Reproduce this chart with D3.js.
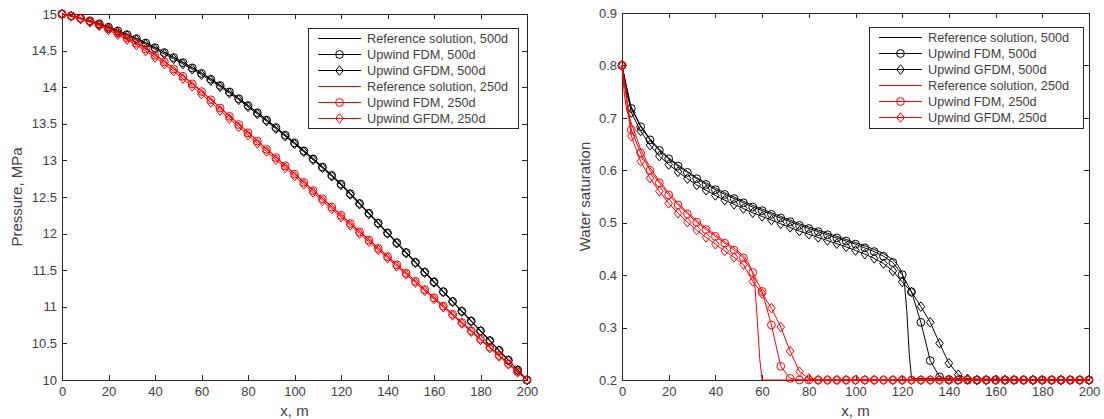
<!DOCTYPE html>
<html><head><meta charset="utf-8">
<script src="https://cdn.jsdelivr.net/npm/d3@7"></script>
<style>
body{margin:0;background:#fff;}
svg{display:block;font-family:Arial,"Liberation Sans",Helvetica,sans-serif;}
</style>
</head><body>
<svg id="c" width="1104" height="419"></svg>
<script>
// ---------- data ----------
const xTicks=[0,20,40,60,80,100,120,140,160,180,200];
const pTicks=[10,10.5,11,11.5,12,12.5,13,13.5,14,14.5,15];
const sTicks=[0.2,0.3,0.4,0.5,0.6,0.7,0.8,0.9];
const legendLabels=["Reference solution, 500d","Upwind FDM, 500d","Upwind GFDM, 500d","Reference solution, 250d","Upwind FDM, 250d","Upwind GFDM, 250d"];

const xNodes=[0,4,8,12,16,20,24,28,32,36,40,44,48,52,56,60,64,68,72,76,80,84,88,92,96,100,104,108,112,116,120,124,128,132,136,140,144,148,152,156,160,164,168,172,176,180,184,188,192,196,200];

// pressure, MPa
const pRef500=[15.000,14.975,14.945,14.910,14.870,14.825,14.775,14.725,14.670,14.610,14.545,14.480,14.412,14.342,14.270,14.195,14.115,14.030,13.942,13.850,13.755,13.657,13.557,13.455,13.351,13.245,13.137,13.027,12.915,12.801,12.685,12.551,12.417,12.283,12.149,12.015,11.881,11.747,11.613,11.479,11.345,11.211,11.077,10.943,10.809,10.675,10.541,10.407,10.273,10.139,10.000];
const pFdm500=[15.000,14.973,14.942,14.906,14.866,14.820,14.770,14.719,14.664,14.604,14.540,14.474,14.406,14.336,14.264,14.189,14.109,14.024,13.936,13.844,13.749,13.651,13.551,13.449,13.345,13.239,13.131,13.021,12.909,12.795,12.676,12.545,12.412,12.278,12.144,12.010,11.876,11.742,11.608,11.475,11.341,11.207,11.073,10.940,10.806,10.672,10.538,10.405,10.271,10.137,10.000];
const pGfdm500=[15.000,14.970,14.935,14.896,14.853,14.806,14.755,14.703,14.647,14.586,14.521,14.455,14.387,14.317,14.245,14.170,14.090,14.006,13.918,13.827,13.732,13.634,13.535,13.433,13.330,13.224,13.117,13.008,12.897,12.783,12.664,12.533,12.401,12.268,12.135,12.001,11.868,11.734,11.601,11.467,11.334,11.201,11.067,10.934,10.800,10.667,10.534,10.400,10.267,10.133,10.000];
const pRef250=[15.000,14.975,14.945,14.905,14.860,14.805,14.745,14.680,14.610,14.530,14.445,14.355,14.260,14.160,14.055,13.950,13.837,13.724,13.611,13.499,13.386,13.273,13.160,13.047,12.934,12.821,12.709,12.596,12.483,12.370,12.257,12.144,12.031,11.919,11.806,11.693,11.580,11.467,11.354,11.241,11.129,11.016,10.903,10.790,10.677,10.564,10.451,10.339,10.226,10.113,10.000];
const pFdm250=[15.000,14.973,14.941,14.900,14.854,14.798,14.738,14.672,14.601,14.521,14.436,14.346,14.250,14.150,14.045,13.940,13.828,13.715,13.602,13.490,13.377,13.264,13.151,13.039,12.926,12.813,12.701,12.588,12.475,12.363,12.250,12.137,12.024,11.912,11.799,11.687,11.574,11.461,11.349,11.236,11.124,11.011,10.898,10.786,10.673,10.561,10.448,10.336,10.224,10.112,10.000];
const pGfdm250=[15.000,14.968,14.932,14.888,14.838,14.780,14.717,14.649,14.576,14.494,14.407,14.315,14.218,14.117,14.011,13.905,13.793,13.681,13.569,13.457,13.345,13.233,13.121,13.009,12.897,12.785,12.673,12.561,12.449,12.337,12.225,12.113,12.001,11.889,11.777,11.665,11.553,11.441,11.330,11.218,11.106,10.994,10.882,10.771,10.659,10.547,10.436,10.324,10.213,10.106,10.000];

// water saturation
const sRefX500=[0,1,2,4,8,12,16,20,24,28,32,36,40,44,48,52,56,60,64,68,72,76,80,84,88,92,96,100,104,108,112,116,118,120,121,122,123,124,200];
const sRef500=[0.800,0.765,0.745,0.720,0.685,0.660,0.640,0.624,0.610,0.598,0.586,0.576,0.566,0.557,0.549,0.541,0.533,0.526,0.519,0.512,0.505,0.498,0.492,0.486,0.480,0.474,0.468,0.462,0.456,0.449,0.441,0.430,0.420,0.405,0.382,0.330,0.250,0.203,0.200];
const sFdm500=[0.800,0.718,0.683,0.658,0.638,0.622,0.608,0.596,0.584,0.573,0.563,0.554,0.546,0.538,0.530,0.523,0.516,0.509,0.502,0.495,0.489,0.483,0.477,0.471,0.465,0.459,0.452,0.445,0.436,0.424,0.401,0.368,0.310,0.237,0.206,0.201,0.200,0.200,0.200,0.200,0.200,0.200,0.200,0.200,0.200,0.200,0.200,0.200,0.200,0.200,0.200];
const sGfdm500=[0.800,0.710,0.675,0.648,0.627,0.611,0.597,0.584,0.572,0.562,0.552,0.543,0.535,0.527,0.519,0.512,0.505,0.498,0.491,0.484,0.478,0.472,0.466,0.460,0.454,0.447,0.440,0.432,0.422,0.408,0.387,0.368,0.340,0.310,0.270,0.232,0.210,0.202,0.200,0.200,0.200,0.200,0.200,0.200,0.200,0.200,0.200,0.200,0.200,0.200,0.200];
const sRefX250=[0,1,2,4,8,12,16,20,24,28,32,36,40,44,48,52,54,56,57,58,59,60,200];
const sRef250=[0.800,0.745,0.715,0.690,0.640,0.605,0.580,0.557,0.537,0.520,0.504,0.490,0.477,0.464,0.452,0.437,0.425,0.405,0.375,0.310,0.240,0.200,0.200];
const sFdm250=[0.800,0.677,0.633,0.600,0.576,0.553,0.534,0.517,0.501,0.487,0.474,0.461,0.448,0.433,0.405,0.369,0.305,0.226,0.203,0.200,0.200,0.200,0.200,0.200,0.200,0.200,0.200,0.200,0.200,0.200,0.200,0.200,0.200,0.200,0.200,0.200,0.200,0.200,0.200,0.200,0.200,0.200,0.200,0.200,0.200,0.200,0.200,0.200,0.200,0.200,0.200];
const sGfdm250=[0.800,0.665,0.617,0.585,0.560,0.537,0.518,0.501,0.486,0.472,0.459,0.446,0.434,0.420,0.388,0.365,0.337,0.301,0.255,0.216,0.203,0.200,0.200,0.200,0.200,0.200,0.200,0.200,0.200,0.200,0.200,0.200,0.200,0.200,0.200,0.200,0.200,0.200,0.200,0.200,0.200,0.200,0.200,0.200,0.200,0.200,0.200,0.200,0.200,0.200,0.200];

// ---------- drawing ----------
const svg=d3.select('#c');
const AX='#262626', TXT='#404040', RED='#ff0000', BLK='#000000';
const CR=3.9;

function markerPath(type){
  if(type==='diamond') return 'M0,-4.8L3.8,0L0,4.8L-3.8,0Z';
  return null;
}

function drawPanel(p){
  const g=svg.append('g');
  const x=d3.scaleLinear().domain([0,200]).range([p.left,p.right]);
  const y=d3.scaleLinear().domain(p.yDomain).range([p.bottom,p.top]);

  const ax=g.append('g');
  ax.append('g').attr('transform',`translate(0,${p.bottom})`)
    .call(d3.axisBottom(x).tickValues(xTicks).tickSize(-5).tickSizeOuter(0).tickPadding(7).tickFormat(d3.format('d')));
  ax.append('g').attr('transform',`translate(0,${p.top})`)
    .call(d3.axisTop(x).tickValues(xTicks).tickSize(-5).tickSizeOuter(0).tickFormat(''));
  ax.append('g').attr('transform',`translate(${p.left},0)`)
    .call(d3.axisLeft(y).tickValues(p.yTicks).tickSize(-5).tickSizeOuter(0).tickPadding(5).tickFormat(p.fmt));
  ax.append('g').attr('transform',`translate(${p.right},0)`)
    .call(d3.axisRight(y).tickValues(p.yTicks).tickSize(-5).tickSizeOuter(0).tickFormat(''));
  ax.selectAll('path.domain').attr('stroke',AX).attr('stroke-width',1).attr('shape-rendering','crispEdges');
  ax.selectAll('.tick line').attr('stroke',AX).attr('stroke-width',1).attr('shape-rendering','crispEdges');
  ax.selectAll('.tick text').attr('fill',TXT).style('font-size','13px').style('font-family','Arial,"Liberation Sans",sans-serif');

  // axis labels
  g.append('text').attr('x',(p.left+p.right)/2).attr('y',416).attr('text-anchor','middle')
    .attr('fill',TXT).style('font-size','15px').text('x, m');
  g.append('text').attr('transform',`translate(${p.ylabX},${(p.top+p.bottom)/2}) rotate(-90)`)
    .attr('text-anchor','middle').attr('fill',TXT).style('font-size','15px').text(p.ylabel);

  // series
  const line=d3.line();
  p.series.forEach(s=>{
    const pts=s.x.map((xx,i)=>[x(xx),y(s.y[i])]);
    g.append('path').attr('d',line(pts)).attr('fill','none').attr('stroke',s.color).attr('stroke-width',1);
    if(s.marker==='circle'){
      g.append('g').selectAll('circle').data(pts).enter().append('circle')
        .attr('cx',d=>d[0]).attr('cy',d=>d[1]).attr('r',CR)
        .attr('fill','none').attr('stroke',s.color).attr('stroke-width',1);
    } else if(s.marker==='diamond'){
      g.append('g').selectAll('path').data(pts).enter().append('path')
        .attr('d',markerPath('diamond')).attr('transform',d=>`translate(${d[0]},${d[1]})`)
        .attr('fill','none').attr('stroke',s.color).attr('stroke-width',1);
    }
  });

  // legend
  const L=p.legend;
  const lg=g.append('g');
  lg.append('rect').attr('x',L.x).attr('y',L.y).attr('width',L.w).attr('height',L.h)
    .attr('fill','#fff').attr('stroke',AX).attr('stroke-width',1).attr('shape-rendering','crispEdges');
  p.series.forEach((s,i)=>{
    const yy=L.y+10.5+i*16;
    const x0=L.x+10, x1=L.x+53, xm=(x0+x1)/2;
    lg.append('line').attr('x1',x0).attr('x2',x1).attr('y1',yy).attr('y2',yy).attr('stroke',s.color).attr('stroke-width',1);
    if(s.marker==='circle') lg.append('circle').attr('cx',xm).attr('cy',yy).attr('r',CR).attr('fill','none').attr('stroke',s.color);
    if(s.marker==='diamond') lg.append('path').attr('d',markerPath('diamond')).attr('transform',`translate(${xm},${yy})`).attr('fill','none').attr('stroke',s.color);
    lg.append('text').attr('x',L.x+59).attr('y',yy+4.3).attr('fill',TXT).style('font-size','12.7px').text(legendLabels[i]);
  });
}

drawPanel({
  left:62,right:527,top:14,bottom:380,yDomain:[10,15],yTicks:pTicks,fmt:d=>String(d),
  ylabel:'Pressure, MPa',ylabX:22,
  legend:{x:308,y:28,w:210,h:100},
  series:[
    {x:xNodes,y:pRef500,color:BLK,marker:null},
    {x:xNodes,y:pFdm500,color:BLK,marker:'circle'},
    {x:xNodes,y:pGfdm500,color:BLK,marker:'diamond'},
    {x:xNodes,y:pRef250,color:RED,marker:null},
    {x:xNodes,y:pFdm250,color:RED,marker:'circle'},
    {x:xNodes,y:pGfdm250,color:RED,marker:'diamond'}
  ]
});
drawPanel({
  left:622,right:1089,top:13,bottom:380,yDomain:[0.2,0.9],yTicks:sTicks,fmt:d3.format('.1f'),
  ylabel:'Water saturation',ylabX:590,
  legend:{x:869,y:27,w:214,h:101},
  series:[
    {x:sRefX500,y:sRef500,color:BLK,marker:null},
    {x:xNodes,y:sFdm500,color:BLK,marker:'circle'},
    {x:xNodes,y:sGfdm500,color:BLK,marker:'diamond'},
    {x:sRefX250,y:sRef250,color:RED,marker:null},
    {x:xNodes,y:sFdm250,color:RED,marker:'circle'},
    {x:xNodes,y:sGfdm250,color:RED,marker:'diamond'}
  ]
});
</script>
</body></html>
